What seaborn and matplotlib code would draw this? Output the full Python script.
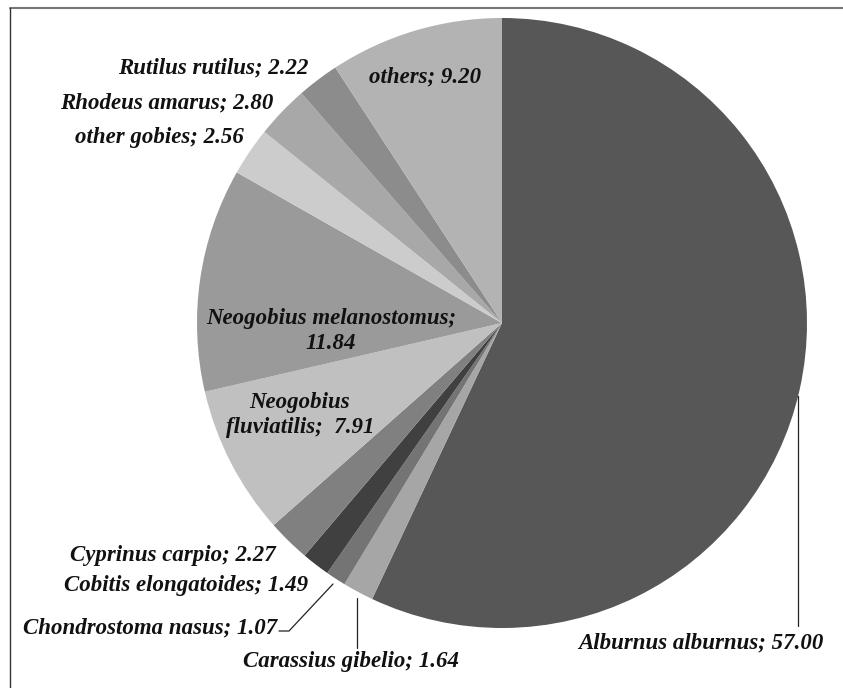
import matplotlib
matplotlib.use("Agg")
import matplotlib.pyplot as plt
import seaborn as sns
from matplotlib.lines import Line2D

sns.set_theme(style="white")
plt.rcParams['font.family'] = ['Liberation Serif', 'DejaVu Serif']

species = ["Alburnus alburnus", "Carassius gibelio", "Chondrostoma nasus",
           "Cobitis elongatoides", "Cyprinus carpio", "Neogobius fluviatilis",
           "Neogobius melanostomus", "other gobies", "Rhodeus amarus",
           "Rutilus rutilus", "others"]
values = [57.00, 1.64, 1.07, 1.49, 2.27, 7.91, 11.84, 2.56, 2.80, 2.22, 9.20]
colors = ["#575757", "#a6a6a6", "#747474", "#404040", "#808080", "#c0c0c0",
          "#9a9a9a", "#cccccc", "#a8a8a8", "#8c8c8c", "#b3b3b3"]
label_text = ["Alburnus alburnus; 57.00", "Carassius gibelio; 1.64",
              "Chondrostoma nasus; 1.07", "Cobitis elongatoides; 1.49",
              "Cyprinus carpio; 2.27", "Neogobius\nfluviatilis;  7.91",
              "Neogobius melanostomus;\n11.84", "other gobies; 2.56",
              "Rhodeus amarus; 2.80", "Rutilus rutilus; 2.22", "others; 9.20"]

W, H = 843, 688
CX, CY, R = 502, 323, 305
fig = plt.figure(figsize=(W / 100, H / 100), dpi=100)
ax = fig.add_axes([0, 0, 1, 1])

ax.pie(values, colors=colors, startangle=90, counterclock=False, radius=1,
       wedgeprops=dict(linewidth=0))
ax.set_aspect('auto')
ax.set_xlim(-CX / R, (W - CX) / R)
ax.set_ylim((CY - H) / R, CY / R)
ax.axis('off')


def P(px, py):
    return ((px - CX) / R, (CY - py) / R)


# label positions in pixels (x, center y, ha)
pos = [(701, 643, 'center'), (351, 662, 'center'), (277, 628, 'right'),
       (186, 585, 'center'), (173, 555, 'center'), (300, 415, 'center'),
       (331, 331, 'center'), (159, 137, 'center'), (167, 103, 'center'),
       (213, 68, 'center'), (425, 77, 'center')]
for t, (px, py, ha) in zip(label_text, pos):
    x, y = P(px, py)
    ax.text(x, y, t, ha=ha, va='center', fontsize=16.5, fontweight='bold',
            fontstyle='italic', color='#111111', linespacing=1.3)

# leader lines
def leader(pts):
    xs, ys = zip(*[P(a, b) for a, b in pts])
    ax.add_line(Line2D(xs, ys, color='#222222', lw=0.9))

leader([(798, 396), (798, 626)])
leader([(357, 598), (357, 648)])
leader([(333, 584), (289, 631), (279, 631)])

# frame
fig.add_artist(Line2D([10 / W, 1], [1 - 7.5 / H, 1 - 7.5 / H],
                      transform=fig.transFigure, color='#777777', lw=1.5))
fig.add_artist(Line2D([9.5 / W, 9.5 / W], [0, 1 - 7.5 / H],
                      transform=fig.transFigure, color='#333333', lw=1.0))

fig.savefig("out.png", dpi=100)
